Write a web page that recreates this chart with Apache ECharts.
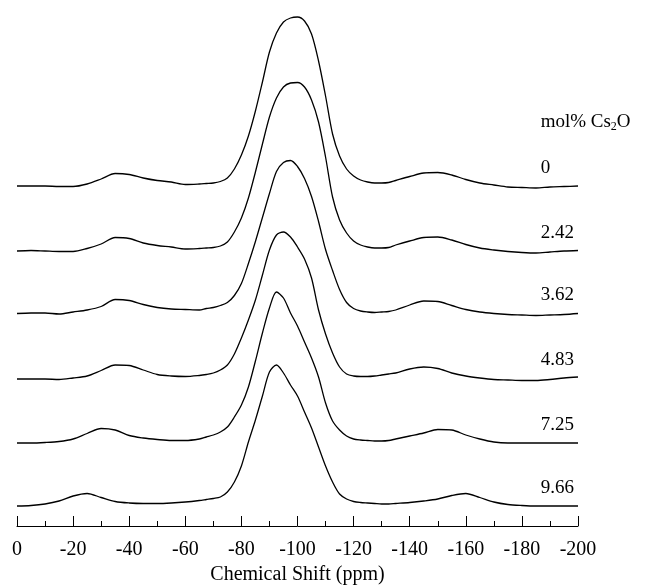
<!DOCTYPE html>
<html>
<head>
<meta charset="utf-8">
<script src="https://cdn.jsdelivr.net/npm/echarts@6/dist/echarts.min.js"></script>
<style>
  html, body { margin: 0; padding: 0; background: #fff; }
  #nmr { width: 650px; height: 587px; }
</style>
</head>
<body>
<div id="nmr"></div>
<script>
// chemical shift (ppm) sample points
const shift = [0,-5,-10,-15,-20,-25,-30,-35,-40,-45,-50,-55,-60,-65,
  -67.5,-70,-72.5,-75,-77.5,-80,-82.5,-85,-87.5,-90,-92.5,-95,-97.5,-100,-102.5,-105,-107.5,-110,-112.5,-115,-117.5,-120,-122.5,-125,-127.5,-130,-132.5,
  -135,-140,-145,-150,-155,-160,-165,-170,-175,-180,-185,-190,-195,-200]

// intensities (arbitrary units) for each composition
const cs0 = [0,0,0,-0.5,-0.5,2,7,12.5,11.5,8,5.5,4,1.5,2,
  2.5,3,4.5,8,17,31,50,75,104,134,153,164,168,169,165,152,125,90,52,30,17,10,6,4,3,3,3.5,
  5.5,9.5,13,13.5,11,6.5,3,1,-1,-1.5,-2,-1,-0.5,0]
const cs242 = [0,0.5,0,-0.5,-0.5,2.5,7,13.5,12.5,8,5.5,4,2,2.5,
  3,3.5,5,9,19,33,53,79,107,134,153,164,168,168.5,164,151,129,94,54,31,18,10,6,4,3,3,3.5,
  6,10,13.5,14,11,6.5,3,1,-0.5,-1.5,-2,-1,0,0.5]
const cs362 = [0,0.5,0.5,-0.5,1.5,3.5,7,14,13,9,6,4.5,4,3.5,
  5,6,8,11,18,30,50,72,96,120,142,151,153,147,135,117,92,64,43,24,11,5,2.5,1.5,1,1.5,2,
  3.5,8.5,12.5,12,8,4,1.5,0,-1,-1.5,-2,-1.5,-1,0]
const cs483 = [-1,-1,-1,-1.5,0,2,7.5,13,12.5,8,3.5,2,1.5,2.5,
  3.5,5,8,13,24,40,58,78,103,128,143,146,141,131,119,100,68,44,25,11,4,2,1.5,1.5,2,3,4,
  5,9,11,9.5,5,2,0,-1.5,-2,-2.5,-2.5,-1.5,0,1]
const cs725 = [0,0,0.5,1.5,4,9.5,14.5,13,7.5,5,3.5,2.5,2.5,4,
  6,8,11,16,26,38,56,82,110,135,151,145,130,117,101,85,66,40,22,13,7,4,3,2.5,2,2,2.5,
  4,7,10,13.5,13,8,4,1,0,0,0,0,0,0]
const cs966 = [0,0.5,2,5,10,12.5,8.5,4.5,3,2.5,2.5,3,4,5.5,
  6.5,7.5,9,14,24,40,64,86,110,134,141,133,121,110,94,78,59,40,24,12,7,4.5,3.5,3,2.5,2,2,
  2.5,3.5,5,7,10.5,12.5,8.5,4,1.5,0.5,0,0,0,0]

const spectra = [cs0, cs242, cs362, cs483, cs725, cs966]
const labels = ['0', '2.42', '3.62', '4.83', '7.25', '9.66']
// vertical stacking offset of each spectrum
const offsets = [340, 275, 212.5, 148, 83, 20]
const xTicks = [0, -20, -40, -60, -80, -100, -120, -140, -160, -180, -200]

const font = '"Liberation Serif", "Times New Roman", serif'
const labelX = -186.5
const labelRise = 18

let chart = echarts.init(document.getElementById('nmr'))

let series = spectra.map((sp, i) => {
  let s = {
    type: 'line',
    data: shift.map((x, j) => [x, sp[j] + offsets[i]]),
    showSymbol: false,
    smooth: 0.3,
    lineStyle: { color: '#000', width: 1.3 },
    markPoint: {
      symbol: 'circle',
      symbolSize: 1,
      silent: true,
      itemStyle: { color: 'rgba(0,0,0,0)' },
      label: {
        show: true,
        position: 'right',
        distance: 0,
        formatter: '{b}',
        color: '#000',
        fontFamily: font,
        fontSize: 19
      },
      data: [{ name: labels[i], coord: [labelX, offsets[i] + labelRise] }]
    }
  }
  if (i === 0) {
    // heading above the composition labels: mol% Cs2O
    s.markPoint.data.push({
      name: 'head',
      coord: [labelX, offsets[i] + 64],
      label: {
        formatter: '{a|mol% Cs}{b|2}{a|O}',
        rich: {
          a: { fontFamily: font, fontSize: 19, color: '#000', lineHeight: 22 },
          b: { fontFamily: font, fontSize: 12, color: '#000', verticalAlign: 'bottom', lineHeight: 14, padding: [8, 0, 0, 0] }
        }
      }
    })
  }
  return s
})

chart.setOption({
  animation: false,
  grid: { left: 17, right: 72, top: 10, bottom: 61, outerBoundsMode: 'none' },
  xAxis: {
    type: 'value',
    min: -200,
    max: 0,
    interval: 20,
    inverse: true,
    axisLine: { show: true, onZero: false, lineStyle: { color: '#000', width: 1 } },
    axisTick: { show: true, inside: true, length: 10, lineStyle: { color: '#000' } },
    minorTick: { show: true, splitNumber: 2, length: 5, lineStyle: { color: '#000' } },
    splitLine: { show: false },
    minorSplitLine: { show: false },
    axisLabel: {
      color: '#000',
      fontFamily: font,
      fontSize: 20,
      margin: 14,
      showMinLabel: true,
      showMaxLabel: true,
      formatter: v => xTicks.indexOf(v) >= 0 ? String(v) : ''
    },
    name: 'Chemical Shift (ppm)',
    nameLocation: 'middle',
    nameGap: 39,
    nameTextStyle: { color: '#000', fontFamily: font, fontSize: 20 }
  },
  yAxis: { type: 'value', min: 0, max: 516, show: false },
  series: series
})
</script>
</body>
</html>
